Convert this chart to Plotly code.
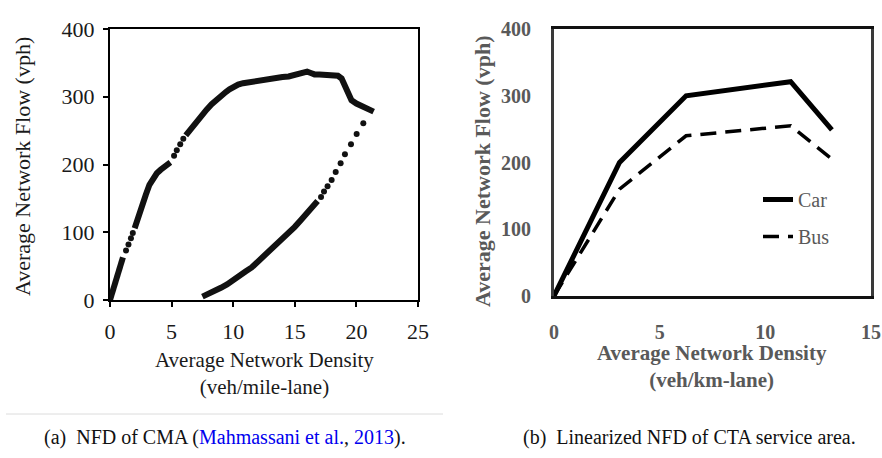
import plotly.graph_objects as go

# ---------------- (a) NFD of CMA : data ----------------
# Loading branch (dense parts, None = break where individual dots are visible)
load_x = [0, 0.2, 0.4, 0.6, 0.8, 1.05, None,
          2.0, 2.3, 2.6, 2.9, 3.2, 3.5, 3.8, 4.1, 4.5, 4.9, None,
          6.15, 6.6, 7.0, 7.4, 7.84, 8.25, 8.65, 9.0, 9.4, 9.7, 10.0, 10.4, 10.8,
          11.4, 12.0, 12.5, 13.0, 13.5, 14.0, 14.5, 15.0, 15.4, 15.8, 16.0, 16.3,
          16.6, 17.0, 17.5, 18.0, 18.5, 18.8, 19.0, 19.2, 19.35, 19.6, 20.0, 20.4,
          20.8, 21.1, 21.4]
load_y = [0, 11, 23, 36, 49, 63, None,
          106, 124, 140, 155, 170, 180, 187, 192, 197, 203, None,
          243, 254, 264, 273, 281, 289, 296, 302, 307, 311, 315, 318, 320,
          322, 324, 325, 327, 328, 329, 330, 332, 334, 336, 337, 335,
          333, 333, 332, 332, 331, 327, 318, 308, 301, 295, 290, 286,
          284, 281, 278]
# Loading branch: separate dots
load_dot_x = [1.3, 1.5, 1.7, 1.85, 5.2, 5.42, 5.7, 5.95]
load_dot_y = [73, 82, 91, 99, 213, 221, 230, 238]

# Unloading branch: separate dots then dense part
unload_dot_x = [20.56, 20.02, 19.56, 19.07, 18.72, 18.32, 17.99, 17.66, 17.37, 17.13]
unload_dot_y = [261, 245, 230, 215, 202, 189, 177, 168, 160, 152]
unload_x = [16.85, 16.5, 16.0, 15.5, 15.0, 14.5, 14.0, 13.5, 13.0, 12.5, 12.0,
            11.5, 11.0, 10.5, 10.0, 9.5, 9.0, 8.5, 8.0, 7.5]
unload_y = [146, 138, 128, 118, 108, 99, 90, 81, 72, 63, 55,
            48, 42, 35, 29, 23, 18, 13, 9, 5]

# ---------------- (b) Linearized NFD of CTA ----------------
density_km = [0, 3.1, 6.25, 11.2, 13.15]
car_flow = [0, 200, 300, 321, 249]
bus_flow = [0, 160, 240, 255, 205]

x_ticks_a = [0, 5, 10, 15, 20, 25]
y_ticks = [0, 100, 200, 300, 400]
x_ticks_b = [0, 5, 10, 15]

SERIF = "Liberation Serif, Times New Roman, serif"
INK = "#111111"
GRAY = "#595959"

fig = go.Figure()

fig.add_trace(go.Scatter(x=load_x, y=load_y, mode="lines", connectgaps=False,
                         line=dict(color=INK, width=6), cliponaxis=False,
                         showlegend=False, xaxis="x", yaxis="y"))
fig.add_trace(go.Scatter(x=load_dot_x, y=load_dot_y, mode="markers",
                         marker=dict(color=INK, size=6), cliponaxis=False,
                         showlegend=False, xaxis="x", yaxis="y"))
fig.add_trace(go.Scatter(x=unload_dot_x, y=unload_dot_y, mode="markers",
                         marker=dict(color=INK, size=6), cliponaxis=False,
                         showlegend=False, xaxis="x", yaxis="y"))
fig.add_trace(go.Scatter(x=unload_x, y=unload_y, mode="lines",
                         line=dict(color=INK, width=6), cliponaxis=False,
                         showlegend=False, xaxis="x", yaxis="y"))

fig.add_trace(go.Scatter(x=density_km, y=car_flow, mode="lines", name="Car",
                         line=dict(color="black", width=5), cliponaxis=False,
                         legendgroup="car", xaxis="x2", yaxis="y2"))
fig.add_trace(go.Scatter(x=density_km, y=bus_flow, mode="lines", name="Bus",
                         line=dict(color="black", width=3.5, dash="16px,9px"),
                         cliponaxis=False, legendgroup="bus",
                         xaxis="x2", yaxis="y2"))

axis_a = dict(showline=True, linecolor="black", linewidth=2, mirror=True,
              ticks="outside", ticklen=5, tickwidth=1.5, tickcolor="black",
              showgrid=False, zeroline=False, automargin=False,
              tickfont=dict(family=SERIF, size=22, color="#1a1a1a"))
axis_b = dict(showline=True, linewidth=3, mirror=True,
              ticks="", showgrid=False, zeroline=False, automargin=False,
              tickfont=dict(family=SERIF, size=20, color=GRAY, weight="bold"))

fig.update_layout(
    width=882, height=458, margin=dict(l=0, r=0, t=0, b=0, pad=0),
    autosize=False,
    paper_bgcolor="white", plot_bgcolor="white",
    xaxis=dict(domain=[110/882, 418/882], range=[0, 25], tickvals=x_ticks_a,
               anchor="y", ticklabelstandoff=6, **axis_a),
    yaxis=dict(domain=[1-300/458, 1-29/458], range=[0, 400], tickvals=y_ticks,
               anchor="x", ticklabelstandoff=4, **axis_a),
    xaxis2=dict(domain=[554/882, 871/882], range=[0, 15], tickvals=x_ticks_b,
                anchor="y2", ticklabelstandoff=16, linecolor="#111111", **axis_b),
    yaxis2=dict(domain=[1-296/458, 1-29/458], range=[0, 400], tickvals=y_ticks,
                anchor="x2", ticklabelstandoff=16, linecolor="#3a3a3a", **axis_b),
    showlegend=True,
    legend=dict(x=758/882, y=1-180/458, xanchor="left", yanchor="top",
                bgcolor="rgba(0,0,0,0)", borderwidth=0, tracegroupgap=8,
                font=dict(family=SERIF, size=20, color=GRAY)),
)


def note(text, x, y, size, color, bold=False, angle=0):
    f = dict(family=SERIF, size=size, color=color)
    if bold:
        f["weight"] = "bold"
    return dict(text=text, x=x/882, y=1-y/458, xref="paper", yref="paper",
                xanchor="center", yanchor="middle", textangle=angle,
                showarrow=False, font=f)


ann = [
    note("Average Network Flow (vph)", 22, 167, 22, "#1a1a1a", angle=-90),
    note("Average Network Density<br>(veh/mile-lane)", 264, 373, 21, "#1a1a1a"),
    note("Average Network Flow (vph)", 482, 172, 22, GRAY, bold=True, angle=-90),
    note("Average Network Density<br>(veh/km-lane)", 712, 366, 21, GRAY, bold=True),
    note("(a)&nbsp; NFD of CMA (<span style='color:#0000ee'>Mahmassani et al.</span>, "
         "<span style='color:#0000ee'>2013</span>).", 225, 437, 20, "#111111"),
    note("(b)&nbsp; Linearized NFD of CTA service area.", 689, 437, 20, "#111111"),
]
fig.update_layout(annotations=ann)

fig.add_shape(type="line", xref="paper", yref="paper",
              x0=6/882, x1=443/882, y0=1-414/458, y1=1-414/458,
              line=dict(color="#dcdcdc", width=1))

fig.write_html("out.html")
